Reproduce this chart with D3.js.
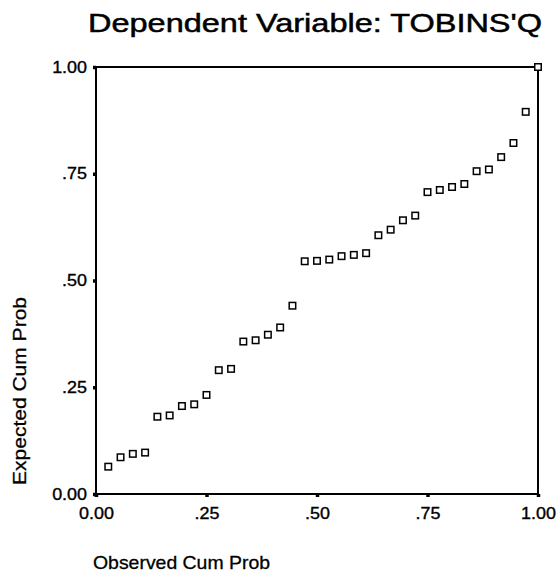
<!DOCTYPE html>
<html>
<head>
<meta charset="utf-8">
<script src="https://cdn.jsdelivr.net/npm/d3@7"></script>
<style>
  body { margin: 0; background: #fff; }
  svg { display: block; font-family: "Liberation Sans", Arial, sans-serif; }
</style>
</head>
<body>
<div id="chart"></div>
<script>
// P-P plot of regression standardized residuals, 36 cases
const observed = d3.range(1, 37).map(i => i / 36)
const expected = [
  0.064, 0.086, 0.094, 0.097, 0.181, 0.184, 0.206, 0.210, 0.232,
  0.290, 0.293, 0.357, 0.360, 0.373, 0.390, 0.441, 0.545, 0.546,
  0.549, 0.557, 0.560, 0.564, 0.606, 0.619, 0.641, 0.652, 0.707,
  0.712, 0.719, 0.726, 0.756, 0.760, 0.789, 0.822, 0.895, 1.000
]
const tickValues = [0, 0.25, 0.5, 0.75, 1]
const tickLabels = ["0.00", ".25", ".50", ".75", "1.00"]

const width = 558, height = 579
const plotLeft = 96, plotRight = 538, plotTop = 67, plotBottom = 494

const svg = d3.select("#chart").append("svg")
  .attr("width", width)
  .attr("height", height)

const x = d3.scaleLinear().domain([0, 1]).range([plotLeft, plotRight])
const y = d3.scaleLinear().domain([0, 1]).range([plotBottom, plotTop])

// title
svg.append("text")
  .attr("x", 88).attr("y", 32)
  .attr("font-size", 26)
  .attr("stroke", "#000").attr("stroke-width", 0.5)
  .attr("textLength", 454)
  .attr("lengthAdjust", "spacingAndGlyphs")
  .text("Dependent Variable: TOBINS'Q")

// frame
svg.append("rect")
  .attr("x", plotLeft).attr("y", plotTop)
  .attr("width", plotRight - plotLeft).attr("height", plotBottom - plotTop)
  .attr("fill", "none")
  .attr("stroke", "#000")
  .attr("stroke-width", 2)

const fmt = (d, i) => tickLabels[i]

const xAxis = svg.append("g")
  .attr("transform", `translate(0,${plotBottom})`)
  .call(d3.axisBottom(x).tickValues(tickValues).tickFormat(fmt).tickSize(3).tickPadding(6))

const yAxis = svg.append("g")
  .attr("transform", `translate(${plotLeft},0)`)
  .call(d3.axisLeft(y).tickValues(tickValues).tickFormat(fmt).tickSize(3).tickPadding(6))

for (const g of [xAxis, yAxis]) {
  g.select(".domain").remove()
  g.selectAll(".tick line").attr("stroke", "#000").attr("stroke-width", 3.5)
  g.selectAll(".tick text")
    .attr("fill", "#000")
    .attr("stroke", "#000").attr("stroke-width", 0.35)
    .attr("font-size", 16)
    .attr("font-family", "Liberation Sans, Arial, sans-serif")
    .each(function() {
      const w = this.getComputedTextLength()
      d3.select(this).attr("textLength", w * 1.12).attr("lengthAdjust", "spacingAndGlyphs")
    })
}
xAxis.selectAll(".tick text").attr("dy", "1em")

// axis titles
svg.append("text")
  .attr("x", 93).attr("y", 569)
  .attr("font-size", 19)
  .attr("stroke", "#000").attr("stroke-width", 0.3)
  .attr("textLength", 177)
  .attr("lengthAdjust", "spacingAndGlyphs")
  .text("Observed Cum Prob")

svg.append("text")
  .attr("transform", "translate(26,391) rotate(-90)")
  .attr("text-anchor", "middle")
  .attr("font-size", 19)
  .attr("stroke", "#000").attr("stroke-width", 0.3)
  .attr("textLength", 188)
  .attr("lengthAdjust", "spacingAndGlyphs")
  .text("Expected Cum Prob")

// points
const s = 6.5
svg.append("g")
  .selectAll("rect")
  .data(observed.map((d, i) => ({ obs: d, exp: expected[i] })))
  .enter().append("rect")
  .attr("x", d => x(d.obs) - s / 2)
  .attr("y", d => y(d.exp) - s / 2)
  .attr("width", s).attr("height", s)
  .attr("fill", "#fff")
  .attr("stroke", "#000")
  .attr("stroke-width", 1.5)
</script>
</body>
</html>
